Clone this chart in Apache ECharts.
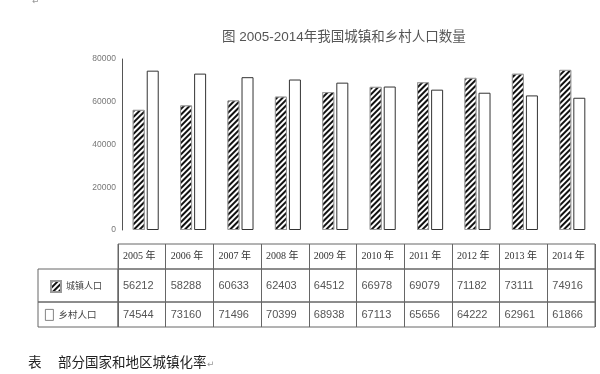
<!DOCTYPE html>
<html>
<head>
<meta charset="utf-8">
<script src="https://cdn.jsdelivr.net/npm/echarts@6/dist/echarts.min.js"></script>
<style>
html,body{margin:0;padding:0;background:#fff;}
#c{width:600px;height:374px;}
</style>
</head>
<body>
<div id="c"></div>
<script>
// ---- data ----
const years = ['2005 年','2006 年','2007 年','2008 年','2009 年','2010 年','2011 年','2012 年','2013 年','2014 年'];
const urbanName = '城镇人口';
const ruralName = '乡村人口';
const urban = [56212, 58288, 60633, 62403, 64512, 66978, 69079, 71182, 73111, 74916];
const rural = [74544, 73160, 71496, 70399, 68938, 67113, 65656, 64222, 62961, 61866];
const yMin = 0, yMax = 80000, yStep = 20000;
const titleText = '图 2005-2014年我国城镇和乡村人口数量';
const captionHead = '表';
const captionText = '部分国家和地区城镇化率';

const chart = echarts.init(document.getElementById('c'), null, {renderer: 'canvas'});

const hatch = {
  symbol: 'rect', symbolSize: 1,
  dashArrayX: [1, 0], dashArrayY: [1.7, 1.5],
  rotation: -Math.PI / 4, color: '#111', backgroundColor: '#ffffff'
};

// table rows geometry
const tblLeft = 118, tblRight = 5, labLeft = 38;
const rows = [
  {top: 244, h: 25},
  {top: 269, h: 33},
  {top: 302, h: 25}
];
const sansCJK = "'Liberation Sans', 'Noto Sans CJK SC', sans-serif";
const serifCJK = "'Liberation Serif', 'Noto Sans CJK SC', serif";

const grids = [
  {left: 122, right: 4, top: 59, bottom: 144}
];
rows.forEach(r => grids.push({left: tblLeft, right: tblRight, top: r.top, height: r.h,
  show: true, borderColor: '#666', borderWidth: 1, backgroundColor: 'transparent'}));
rows.slice(1).forEach(r => grids.push({left: labLeft, width: tblLeft - labLeft, top: r.top, height: r.h,
  show: true, borderColor: '#666', borderWidth: 1, backgroundColor: 'transparent'}));

function tableAxis(gi, labels, h, font, size, color) {
  return {
    type: 'category', gridIndex: gi, boundaryGap: false,
    data: labels.concat(['']),
    axisLine: {show: false}, axisTick: {show: false},
    splitLine: {show: true, interval: 0, lineStyle: {color: '#666', width: 1}},
    axisLabel: {inside: true, interval: 0, align: 'left', verticalAlign: 'middle',
      margin: h / 2, padding: [0, 0, 0, 5], fontFamily: font, fontSize: size, color: color,
      showMinLabel: true, showMaxLabel: true}
  };
}

const xAxes = [
  {type: 'category', gridIndex: 0, data: years, show: false, boundaryGap: true},
  tableAxis(1, years, rows[0].h, serifCJK, 10, '#333'),
  tableAxis(2, urban.map(String), rows[1].h, sansCJK, 11, '#555'),
  tableAxis(3, rural.map(String), rows[2].h, sansCJK, 11, '#555'),
  {type: 'value', gridIndex: 4, show: false},
  {type: 'value', gridIndex: 5, show: false}
];
const yAxes = [
  {type: 'value', gridIndex: 0, min: yMin, max: yMax, interval: yStep,
    axisLine: {show: true, lineStyle: {color: '#555', width: 1}},
    axisTick: {show: false}, splitLine: {show: false},
    axisLabel: {color: '#777', fontSize: 8.5, margin: 6, fontFamily: 'Liberation Sans',
      formatter: v => String(v)}}
];
for (let i = 1; i <= 5; i++) yAxes.push({type: 'value', gridIndex: i, show: false});

const option = {
  backgroundColor: '#fff',
  animation: false,
  title: {text: titleText, left: 222, top: 31, padding: 0,
    textStyle: {fontSize: 13.5, fontWeight: 'normal', color: '#555', fontFamily: sansCJK}},
  legend: [
    {data: [{name: urbanName, icon: 'rect'}], left: 50, top: 280, padding: 0, itemWidth: 10, itemHeight: 11, itemGap: 0,
      selectedMode: false, textStyle: {fontSize: 9, color: '#444', fontFamily: sansCJK}},
    {data: [{name: ruralName, icon: 'rect'}], left: 45, top: 309, padding: 0, itemWidth: 8, itemHeight: 11, itemGap: 0,
      itemStyle: {borderColor: '#666', borderWidth: 0.8},
      selectedMode: false, textStyle: {fontSize: 9.5, color: '#444', fontFamily: sansCJK}}
  ],
  grid: grids,
  xAxis: xAxes,
  yAxis: yAxes,
  series: [
    {name: urbanName, type: 'bar', xAxisIndex: 0, yAxisIndex: 0, data: urban,
      barWidth: 12, barGap: '17%',
      itemStyle: {color: '#ffffff', borderColor: '#999', borderWidth: 1, decal: hatch}},
    {name: ruralName, type: 'bar', xAxisIndex: 0, yAxisIndex: 0, data: rural,
      barWidth: 12, barGap: '17%',
      itemStyle: {color: '#ffffff', borderColor: '#333', borderWidth: 1}}
  ],
  graphic: [
    {type: 'text', left: 28, top: 357, style: {text: captionHead, fontSize: 13.5, fill: '#222', fontFamily: sansCJK}},
    {type: 'text', left: 58, top: 357, style: {text: captionText, fontSize: 13.5, fill: '#222', fontFamily: sansCJK}},
    {type: 'text', left: 207, top: 360, style: {text: '↵', fontSize: 9, fill: '#999', fontFamily: 'DejaVu Sans'}},
    {type: 'text', left: 32, top: -3, style: {text: '↵', fontSize: 9, fill: '#999', fontFamily: 'DejaVu Sans'}}
  ]
};
chart.setOption(option);
</script>
</body>
</html>
